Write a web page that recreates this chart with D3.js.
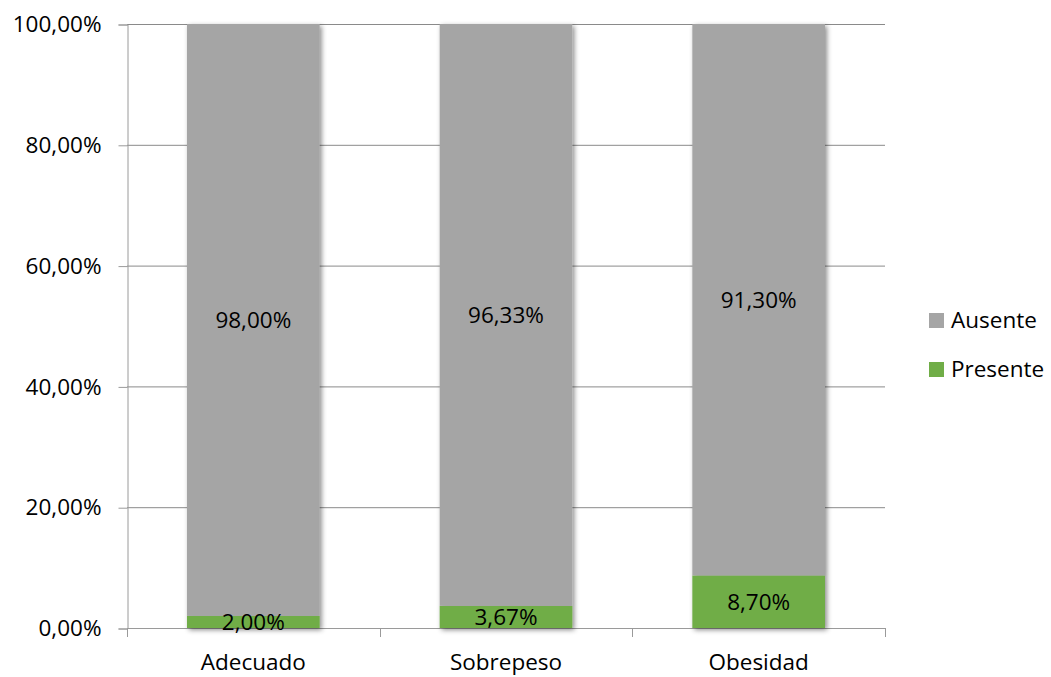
<!DOCTYPE html>
<html>
<head>
<meta charset="utf-8">
<script src="https://cdn.jsdelivr.net/npm/d3@7"></script>
<style>
  html, body { margin: 0; padding: 0; background: #fff; }
  svg { display: block; font-family: "Open Sans", sans-serif; }
</style>
</head>
<body>
<svg id="chart" width="1051" height="677"></svg>
<script>
// Categories and stacked shares (percent)
const categories = ["Adecuado", "Sobrepeso", "Obesidad"];
const presente = [2.00, 3.67, 8.70];
const ausente = [98.00, 96.33, 91.30];
const seriesNames = ["Presente", "Ausente"];
const yTicks = [0, 20, 40, 60, 80, 100];

const colors = { Presente: "#70AD47", Ausente: "#A5A5A5" };
const fmt = v => v.toFixed(2).replace(".", ",") + "%";
const FS = 22.5;

const svg = d3.select("#chart");
const margin = { left: 127, right: 166, top: 24, bottom: 49 };
const W = 1051, H = 677;

const x = d3.scaleBand().domain(categories)
  .range([margin.left, W - margin.right]).paddingInner(0.475).paddingOuter(0.2375);
const y = d3.scaleLinear().domain([0, 100]).range([H - margin.bottom, margin.top]);

// soft shadow under bars
const defs = svg.append("defs");
const f = defs.append("filter").attr("id", "shadow")
  .attr("x", "-10%").attr("y", "-10%").attr("width", "120%").attr("height", "120%");
f.append("feDropShadow").attr("dx", 2).attr("dy", 2).attr("stdDeviation", 2.4)
  .attr("flood-color", "#000").attr("flood-opacity", 0.45);

// gridlines
svg.append("g").selectAll("line").data(yTicks.filter(t => t > 0)).join("line")
  .attr("x1", margin.left).attr("x2", W - margin.right)
  .attr("y1", d => y(d) + 0.5).attr("y2", d => y(d) + 0.5)
  .attr("stroke", "#8A8A8A").attr("stroke-width", 1);

// y axis
const yAxis = d3.axisLeft(y).tickValues(yTicks).tickSize(9).tickPadding(17).tickFormat(fmt);
const gy = svg.append("g").attr("transform", `translate(${margin.left + 0.5},0.5)`).call(yAxis);
gy.select(".domain").attr("stroke", "#9A9A9A");
gy.selectAll(".tick line").attr("stroke", "#9A9A9A");
gy.selectAll("text").attr("font-size", FS).attr("fill", "#000")
  .style("font-family", "'Open Sans', sans-serif");

// x axis with boundary ticks
const xBase = y(0);
const gx = svg.append("g");
gx.append("line").attr("x1", margin.left).attr("x2", W - margin.right)
  .attr("y1", xBase + 0.5).attr("y2", xBase + 0.5).attr("stroke", "#9A9A9A");
const bounds = d3.range(categories.length + 1).map(i => margin.left + i * (W - margin.left - margin.right) / categories.length);
gx.selectAll("line.tk").data(bounds).join("line").attr("class", "tk")
  .attr("x1", d => Math.round(d) + 0.5).attr("x2", d => Math.round(d) + 0.5)
  .attr("y1", xBase).attr("y2", xBase + 9).attr("stroke", "#9A9A9A");
gx.selectAll("text").data(categories).join("text")
  .attr("x", d => x(d) + x.bandwidth() / 2).attr("y", xBase + 34)
  .attr("dy", "0.35em")
  .attr("text-anchor", "middle").attr("font-size", FS).attr("fill", "#000").text(d => d);

// stacked bars
const rows = categories.map((c, i) => ({ cat: c, Presente: presente[i], Ausente: ausente[i] }));
const stack = d3.stack().keys(seriesNames)(rows);

const gb = svg.append("g").attr("filter", "url(#shadow)");
stack.forEach(layer => {
  gb.selectAll(null).data(layer).join("rect")
    .attr("x", d => x(d.data.cat)).attr("width", x.bandwidth())
    .attr("y", d => y(d[1])).attr("height", d => y(d[0]) - y(d[1]))
    .attr("fill", colors[layer.key]);
});

// value labels
const gl = svg.append("g");
stack.forEach(layer => {
  gl.selectAll(null).data(layer).join("text")
    .attr("x", d => x(d.data.cat) + x.bandwidth() / 2)
    .attr("y", d => (y(d[0]) + y(d[1])) / 2)
    .attr("dy", "0.35em").attr("text-anchor", "middle")
    .attr("font-size", FS).attr("fill", "#000")
    .text(d => fmt(d[1] - d[0]));
});

// legend
const legendItems = ["Ausente", "Presente"];
const lg = svg.append("g").attr("transform", "translate(929,313)");
legendItems.forEach((k, i) => {
  const g = lg.append("g").attr("transform", `translate(0,${i * 49})`);
  g.append("rect").attr("width", 15).attr("height", 15).attr("fill", colors[k]);
  g.append("text").attr("x", 22).attr("y", 7.5).attr("dy", "0.35em")
    .attr("font-size", FS).attr("fill", "#000").text(k);
});
</script>
</body>
</html>
